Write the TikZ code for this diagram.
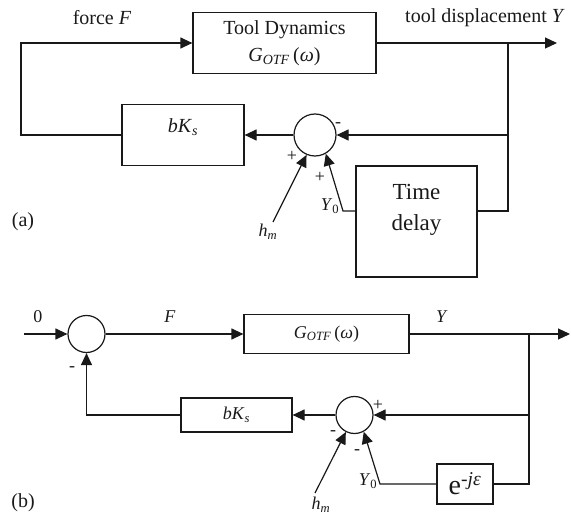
\documentclass[tikz,border=0pt]{standalone}
\usepackage{fontspec}
\setmainfont{Liberation Serif}
\usetikzlibrary{arrows.meta}

\newcommand\lowidx[1]{\textsubscript{#1}}

\begin{document}
\begin{tikzpicture}[x=1pt,y=-1pt,color=black!90,line width=1.2pt,
  arr/.style={-{Triangle[length=12pt,width=11pt]}},
  blk/.style={draw,rectangle,inner sep=0pt},
  sum/.style={draw,circle,inner sep=0pt},
  txt/.style={font=\fontsize{20}{27}\selectfont,inner sep=0pt},
  txtb/.style={font=\fontsize{18}{22}\selectfont,inner sep=0pt},
  sgn/.style={font=\fontsize{18}{18}\selectfont,inner sep=0pt}]

  \useasboundingbox (0,0) rectangle (571,516);

  % (a) tool dynamics with time delay
  \node[blk,txt,align=center,minimum width=183pt,minimum height=61pt] (dyn) at (284.5,43) {Tool Dynamics\\ \textit{G}\lowidx{\textit{OTF}}\,(\textit{ω})};
  \node[blk,minimum width=122pt,minimum height=61pt] (bksA) at (183,135) {};
  \node[txt] (bksAtxt) at (183,127) {\textit{bK}\lowidx{\textit{s}}};
  \node[sum,minimum size=42pt] (sumA) at (315,135) {};
  \node[blk,minimum width=121pt,minimum height=111pt] (delay) at (416.5,221.5) {};
  \node[font=\fontsize{23}{31}\selectfont,align=center,inner sep=0pt] (delaytxt) at (416.5,210) {Time\\delay};

  \coordinate (aL) at (21,43);
  \coordinate (aLb) at (21,135);
  \coordinate (aR) at (508,43);
  \coordinate (aRm) at (508,135);
  \coordinate (aRb) at (508,211);
  \coordinate (aOut) at (557,43);
  \coordinate (aY0) at (343,211);
  \coordinate (aHm) at (273,222);

  \draw[arr] (bksA.west) -- (aLb) -- (aL) -- (dyn.west);
  \draw[arr] (dyn.east) -- (aOut);
  \draw (aR) -- (aRb) -- (aRb -| delay.east);
  \draw[arr] (aRm) -- (sumA.east);
  \draw[arr] (sumA.west) -- (bksA.east);
  \draw[arr] (aRb -| delay.west) -- (aY0) -- (sumA.-60);
  \draw[arr] (aHm) -- (sumA.-113);

  \node[txt] (lblforce) at (102,18) {force \textit{F}};
  \node[txt] (lbldisp) at (485,18) {tool displacement \textit{Y}};
  \node[sgn] (sgnA1) at (338,125) {-};
  \node[sgn] (sgnA2) at (292,156) {+};
  \node[sgn] (sgnA3) at (320,177) {+};
  \node[txtb] (lblY0a) at (330,206) {\textit{Y}\lowidx{0}};
  \node[txtb] (lblhma) at (268,232) {\textit{h}\lowidx{\textit{m}}};
  \node[txt] (lbla) at (23,222) {(a)};

  % (b) block diagram form
  \node[sum,minimum size=37pt] (sumB) at (86.5,334) {};
  \node[blk,txtb,minimum width=165pt,minimum height=39pt] (gB) at (326.5,334) {\textit{G}\lowidx{\textit{OTF}}\,(\textit{ω})};
  \node[sum,minimum size=37pt] (sumC) at (354.5,415) {};
  \node[blk,txtb,minimum width=111pt,minimum height=34pt] (bksB) at (236.5,415) {\textit{bK}\lowidx{\textit{s}}};
  \node[blk,minimum width=56pt,minimum height=40pt] (eB) at (465,484) {\fontsize{28}{30}\selectfont e\textsuperscript{-\textit{jε}}};

  \coordinate (bIn) at (24,334);
  \coordinate (bR) at (529,334);
  \coordinate (bRm) at (529,415);
  \coordinate (bRb) at (529,484);
  \coordinate (bOut) at (570,334);
  \coordinate (bL) at (86.5,415);
  \coordinate (bY0) at (380,484);
  \coordinate (bHm) at (315,493);

  \draw[arr] (bIn) -- (sumB.west);
  \draw[arr] (sumB.east) -- (gB.west);
  \draw[arr] (gB.east) -- (bOut);
  \draw (bR) -- (bRb) -- (eB.east);
  \draw[arr] (bRm) -- (sumC.east);
  \draw[arr] (sumC.west) -- (bksB.east);
  \draw[arr] (bksB.west) -- (bL) -- (sumB.south);
  \draw[arr] (eB.west) -- (bY0) -- (sumC.-61);
  \draw[arr] (bHm) -- (sumC.-117);

  \node[txtb] (lbl0) at (38,317) {0};
  \node[txtb] (lblF) at (170,317) {\textit{F}};
  \node[txtb] (lblY) at (442,317) {\textit{Y}};
  \node[sgn] (sgnB1) at (72,369) {-};
  \node[sgn] (sgnB2) at (378,405) {+};
  \node[sgn] (sgnB3) at (333,433) {-};
  \node[sgn] (sgnB4) at (357,452) {-};
  \node[txtb] (lblY0b) at (368,481) {\textit{Y}\lowidx{0}};
  \node[txtb] (lblhmb) at (321,505) {\textit{h}\lowidx{\textit{m}}};
  \node[txt] (lblb) at (23,503) {(b)};
\end{tikzpicture}
\end{document}
